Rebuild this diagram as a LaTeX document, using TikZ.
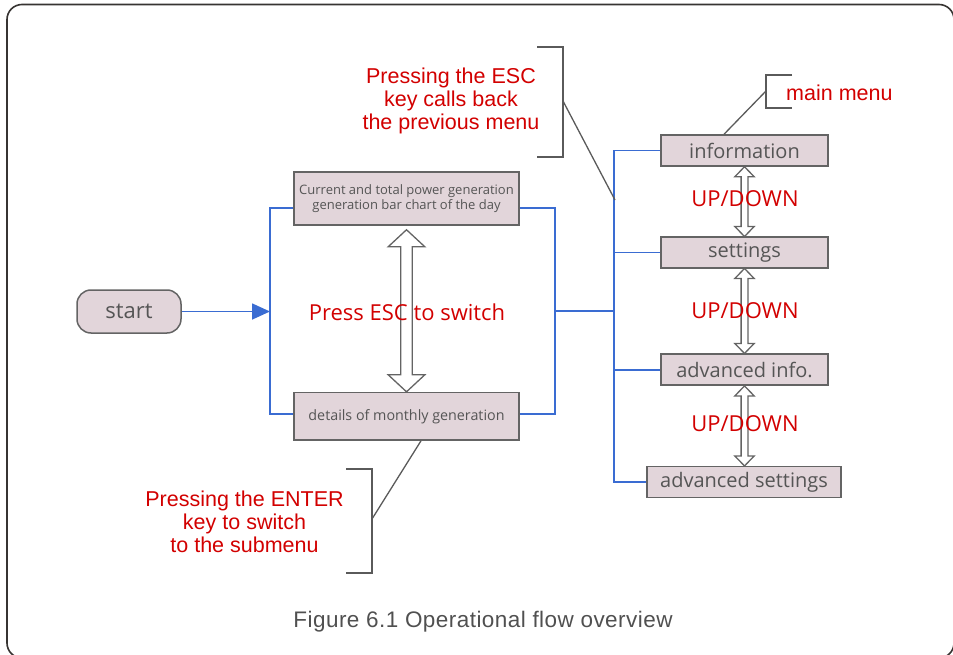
\documentclass[tikz,border=0pt]{standalone}
\usepackage{fontspec}
\setmainfont{Liberation Sans}
\newfontfamily\labelfont{Open Sans}
\newfontfamily\captionfont[LetterSpace=2]{Liberation Sans}
\usetikzlibrary{arrows.meta,calc}

\definecolor{boxfill}{RGB}{226,213,218}
\definecolor{boxdraw}{RGB}{100,100,100}
\definecolor{boxtext}{RGB}{85,85,85}
\definecolor{flowblue}{RGB}{58,108,210}
\definecolor{calloutgray}{RGB}{90,90,90}
\definecolor{notered}{RGB}{210,0,0}
\definecolor{framegray}{RGB}{55,52,50}
\definecolor{captiongray}{RGB}{80,80,80}

\tikzset{
  menubox/.style={draw=boxdraw, fill=boxfill, line width=1.5pt, text=boxtext,
    inner sep=0pt, align=center, font=\labelfont\fontsize{20}{22}\selectfont},
  flow/.style={draw=flowblue, line width=1.7pt},
  callout/.style={draw=calloutgray, line width=1.3pt},
  note/.style={text=notered, font=\fontsize{21.5}{23}\selectfont, align=center, inner sep=0pt},
  keynote/.style={text=notered, font=\labelfont\fontsize{22}{24}\selectfont, inner sep=0pt},
  hollow/.style={draw=boxdraw, fill=white, line width=1.3pt, line join=miter},
}

% vertical two-headed outline arrow: #1 top tip, #2 bottom tip,
% #3 shaft half-width, #4 head half-width, #5 head length
\newcommand\hollowarrow[5]{%
  \draw[hollow] let \p1=(#1), \p2=(#2) in
    (\x1,\y1) -- (\x1+#4pt,\y1-#5pt) -- (\x1+#3pt,\y1-#5pt) -- (\x1+#3pt,\y2+#5pt)
    -- (\x1+#4pt,\y2+#5pt) -- (\x1,\y2) -- (\x1-#4pt,\y2+#5pt) -- (\x1-#3pt,\y2+#5pt)
    -- (\x1-#3pt,\y1-#5pt) -- (\x1-#4pt,\y1-#5pt) -- cycle;}

\begin{document}
\begin{tikzpicture}[x=1pt,y=-1pt]
\useasboundingbox (0,0) rectangle (953,655);
\begin{scope}
\clip (0,0) rectangle (953,655);
\draw[line width=1.6pt, draw=framegray, rounded corners=15pt] (7,4.5) rectangle (954,658);
\end{scope}

% menu boxes
\node[menubox, rounded corners=14pt, minimum width=104pt, minimum height=43pt,
      font=\labelfont\fontsize{22}{24}\selectfont] (start) at (129,311.5) {start};
\node[menubox, minimum width=225pt, minimum height=53pt,
      font=\labelfont\fontsize{13}{15.5}\selectfont] (cur) at (406.5,198.5)
      {Current and total power generation\\generation bar chart of the day};
\node[menubox, minimum width=225pt, minimum height=47.5pt,
      font=\labelfont\fontsize{14.3}{16}\selectfont] (month) at (406.5,416.3)
      {details of monthly generation};
\node[menubox, minimum width=167pt, minimum height=31pt] (info) at (744.5,150.5) {information};
\node[menubox, minimum width=167pt, minimum height=30.5pt] (settings) at (744.5,252.5) {settings};
\node[menubox, minimum width=167pt, minimum height=31pt] (advinfo) at (744.5,369.7) {advanced info.};
\node[menubox, minimum width=194pt, minimum height=31pt] (advset) at (744,482.2) {advanced settings};

% blue flow lines
\coordinate (lb) at (270,311.5);
\coordinate (rb) at (555,311);
\coordinate (sp) at (615,311);
\draw[flow] ([yshift=-9.5pt]cur.west) -| (lb) |- ([yshift=2pt]month.west);
\draw[flow] ([yshift=-9.5pt]cur.east) -| (rb) |- ([yshift=2pt]month.east);
\draw[flow, -{Triangle[length=18pt,width=16pt]}] (start.east) -- (lb);
\draw[flow] (rb) -- (sp);
\draw[flow] (info.west) -- ++(-46,0) |- (advset.west);
\draw[flow] (settings.west) -- (settings.west -| sp);
\draw[flow] (advinfo.west) -- (advinfo.west -| sp);

% outline double arrows
\hollowarrow{[yshift=-4pt]cur.south}{month.north}{5.8}{18.3}{17}
\hollowarrow{info.south}{settings.north}{3.4}{9.7}{10}
\hollowarrow{settings.south}{advinfo.north}{3.4}{9.7}{10}
\hollowarrow{advinfo.south}{advset.north}{3.4}{9.7}{10}

% key labels
\node[keynote] (esc) at (407,312) {Press ESC to switch};
\node[keynote] (ud1) at (745,199) {UP/DOWN};
\node[keynote] (ud2) at (745,311) {UP/DOWN};
\node[keynote] (ud3) at (745,424) {UP/DOWN};

% callouts
\node[note] (escnote) at (451,101) {Pressing the ESC\\key calls back\\the previous menu};
\coordinate (escT) at (537,47);
\coordinate (escB) at (537,157);
\coordinate (escM) at (563,101);
\coordinate (escHit) at (615,200);
\draw[callout] (escT) -- (escT -| escM) -- (escB -| escM) -- (escB);
\draw[callout] (escM) -- (escHit);

\node[note, anchor=west] (mainnote) at (786,93) {main menu};
\coordinate (mmT) at (792,75);
\coordinate (mmB) at (792,108);
\coordinate (mmM) at (766,91);
\draw[callout] (mmT) -- (mmT -| mmM) -- (mmB -| mmM) -- (mmB);
\draw[callout] (mmM) -- ([xshift=-20.5pt]info.north);

\node[note] (enternote) at (244.5,521.5) {Pressing the ENTER\\key to switch\\to the submenu};
\coordinate (enT) at (346,469);
\coordinate (enB) at (346,573);
\coordinate (enM) at (372,519);
\draw[callout] (enT) -- (enT -| enM) -- (enB -| enM) -- (enB);
\draw[callout] (enM) -- ([xshift=14.5pt]month.south);

% caption
\node[text=captiongray, font=\captionfont\fontsize{22.5}{24}\selectfont, inner sep=0pt] (caption) at (483,622)
  {Figure 6.1 Operational flow overview};
\end{tikzpicture}
\end{document}
